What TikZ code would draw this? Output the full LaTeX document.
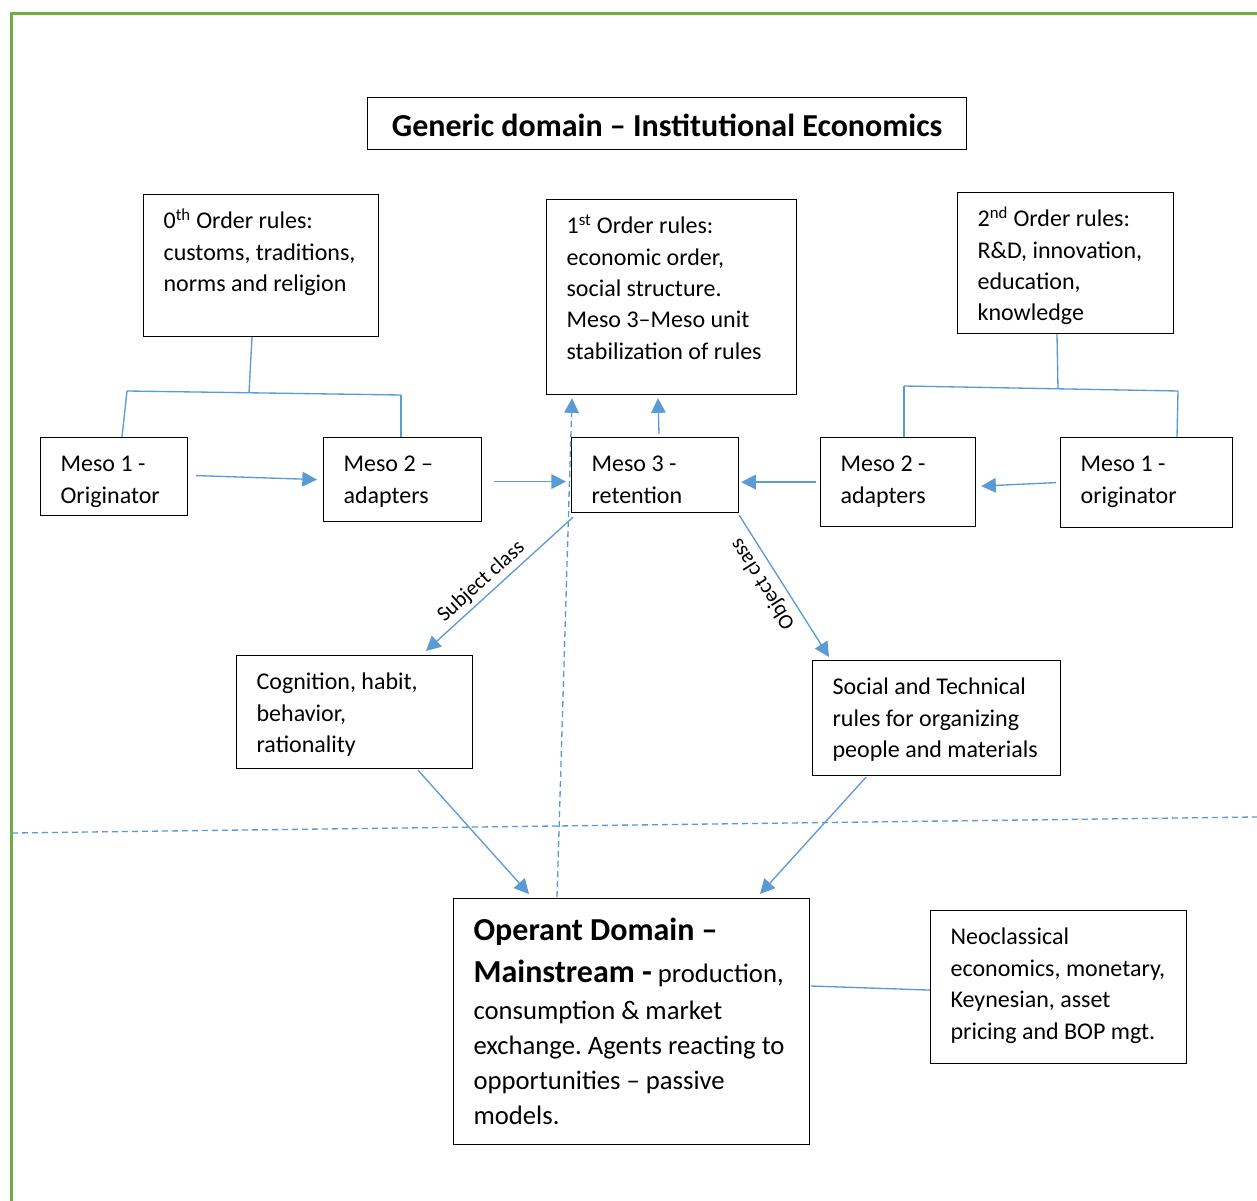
\documentclass[tikz,border=0pt]{standalone}
\usepackage{fontspec}
\setmainfont{Carlito}
\usetikzlibrary{arrows.meta,calc}
\definecolor{cblue}{HTML}{5B9BD5}
\definecolor{cgreen}{HTML}{70AD47}
\newcommand\tbx[4]{\parbox[c][#2][t]{#1}{\raggedright\rule{0pt}{#3}\ignorespaces#4}}
\hfuzz=200pt \hbadness=10000
\frenchspacing
\begin{document}
\begin{tikzpicture}[x=0.75pt,y=-0.75pt,
  box/.style={draw=black, line width=0.9pt, inner xsep=15pt, inner ysep=0pt, anchor=north west,
    font=\fontsize{18pt}{23.6pt}\selectfont},
  conn/.style={draw=cblue, line width=1pt},
  arr/.style={conn, -{Triangle[length=11pt,width=11pt]}},
  dashline/.style={conn, dash pattern=on 4.5pt off 3pt},
  lbl/.style={font=\fontsize{16pt}{18pt}\selectfont, inner sep=3pt},
]
\useasboundingbox (0,0) rectangle (1257,1201);
\fill[white] (0,0) rectangle (1257,1201);
\draw[cgreen, line width=2.25pt] (11,1210) -- (11,14) -- (1265,14);

\node[draw, line width=0.9pt, inner sep=0pt, anchor=north west,
  font=\bfseries\fontsize{24pt}{28pt}\selectfont] (title) at (367,97)
  {\parbox[c][39pt][t]{449.25pt}{\centering\rule{0pt}{29.5pt}Generic domain – Institutional Economics}};

\node[box] (o0) at (143,194) {\tbx{146.25pt}{106.5pt}{25.5pt}{0\textsuperscript{th} Order rules:\\customs, traditions,\\norms and religion}};
\node[box] (o1) at (546,199) {\tbx{157.5pt}{146.25pt}{25.5pt}{1\textsuperscript{st} Order rules:\\economic order,\\social structure.\\Meso 3–Meso unit\\stabilization of rules}};
\node[box] (o2) at (957,192) {\tbx{132pt}{105.75pt}{25.5pt}{2\textsuperscript{nd} Order rules:\\R\&D, innovation,\\education,\\knowledge}};

\node[box] (m1l) at (40,437) {\tbx{80.25pt}{58.5pt}{25.5pt}{Meso 1 -\\Originator}};
\node[box] (m2l) at (323,437) {\tbx{88.5pt}{63pt}{25.5pt}{Meso 2 –\\adapters}};
\node[box] (m3) at (571,437) {\tbx{95.25pt}{56.25pt}{25.5pt}{Meso 3 -\\retention}};
\node[box] (m2r) at (820,437) {\tbx{86.25pt}{66.75pt}{25.5pt}{Meso 2 -\\adapters}};
\node[box] (m1r) at (1060,437) {\tbx{99pt}{67.5pt}{25.5pt}{Meso 1 -\\originator}};

\node[box] (cog) at (236,655) {\tbx{147pt}{84.75pt}{25.5pt}{Cognition, habit,\\behavior,\\rationality}};
\node[box] (soc) at (812,660) {\tbx{156pt}{86.25pt}{25.5pt}{Social and Technical\\rules for organizing\\people and materials}};

\node[box, font=\fontsize{20pt}{26.25pt}\selectfont] (op) at (453,898) {\tbx{237pt}{184.5pt}{31.5pt}{{\bfseries\fontsize{24pt}{26.25pt}\selectfont Operant Domain –}\\[5.25pt]{\bfseries\fontsize{24pt}{26.25pt}\selectfont Mainstream -} production,\\[1.5pt]consumption \& market\\exchange. Agents reacting to\\opportunities – passive\\models.}};
\node[box] (neo) at (930,910) {\tbx{162pt}{114.75pt}{25.5pt}{Neoclassical\\economics, monetary,\\Keynesian, asset\\pricing and BOP mgt.}};

% left tree
\coordinate (tjL) at (249,393);
\coordinate (tL1) at (127,391);
\coordinate (tL2) at (401,395);
\draw[conn] ($(o0.south west)+(109,0)$) -- (tjL);
\draw[conn] (tL1) -- (tL2);
\draw[conn] (tL1) -- ($(m1l.north west)+(82,0)$);
\draw[conn] (tL2) -- ($(m2l.north west)+(78,0)$);
% right tree
\coordinate (tjR) at (1058,389);
\coordinate (tR1) at (904,386);
\coordinate (tR2) at (1178,391);
\draw[conn] ($(o2.south west)+(100,0)$) -- (tjR);
\draw[conn] (tR1) -- (tR2);
\draw[conn] (tR1) -- ($(m2r.north west)+(84,0)$);
\draw[conn] (tR2) -- ($(m1r.north west)+(117,0)$);

% horizontal arrows
\draw[arr] ($(m1l.east)+(8,-1)$) -- ($(m2l.west)+(-6,0)$);
\draw[arr] ($(m2l.east)+(12,2)$) -- ($(m2l.east -| m3.west)+(-5,2)$);
\draw[arr] ($(m2r.west)+(-4,0)$) -- ($(m2r.west -| m3.east)+(2,0)$);
\draw[arr] ($(m1r.west)+(-4,0)$) -- ($(m2r.east)+(5,4)$);
% up arrows
\draw[arr] ($(m3.north west)+(88,-3)$) -- ($(o1.south west)+(112,3)$);
\draw[dashline, -{Triangle[length=11pt,width=11pt]}] ($(op.north west)+(104,-1)$) -- ($(o1.south west)+(26,3)$);

% class arrows
\draw[arr] ($(m3.south west)+(2,4)$) -- node[lbl, pos=0.56, sloped, above] {Subject class} ($(cog.north west)+(190,-4)$);
\draw[arr] ($(m3.south east)+(0,2)$) -- node[lbl, pos=0.42, rotate=122.5, anchor=south, inner sep=5pt] {Object class} ($(soc.north west)+(17,-3)$);

% to operant
\draw[arr] ($(cog.south west)+(182,1)$) -- ($(op.north west)+(76,-4)$);
\draw[arr] ($(soc.south west)+(54,1)$) -- ($(op.north west)+(307,-4)$);
\draw[conn] ($(op.north east)+(1,88)$) -- ($(neo.west)+(0,3)$);

% boundary dashed line
\coordinate (dl) at (12,833);
\coordinate (dr) at (1257,817);
\draw[dashline] (dl) -- (dr);
\end{tikzpicture}
\end{document}
